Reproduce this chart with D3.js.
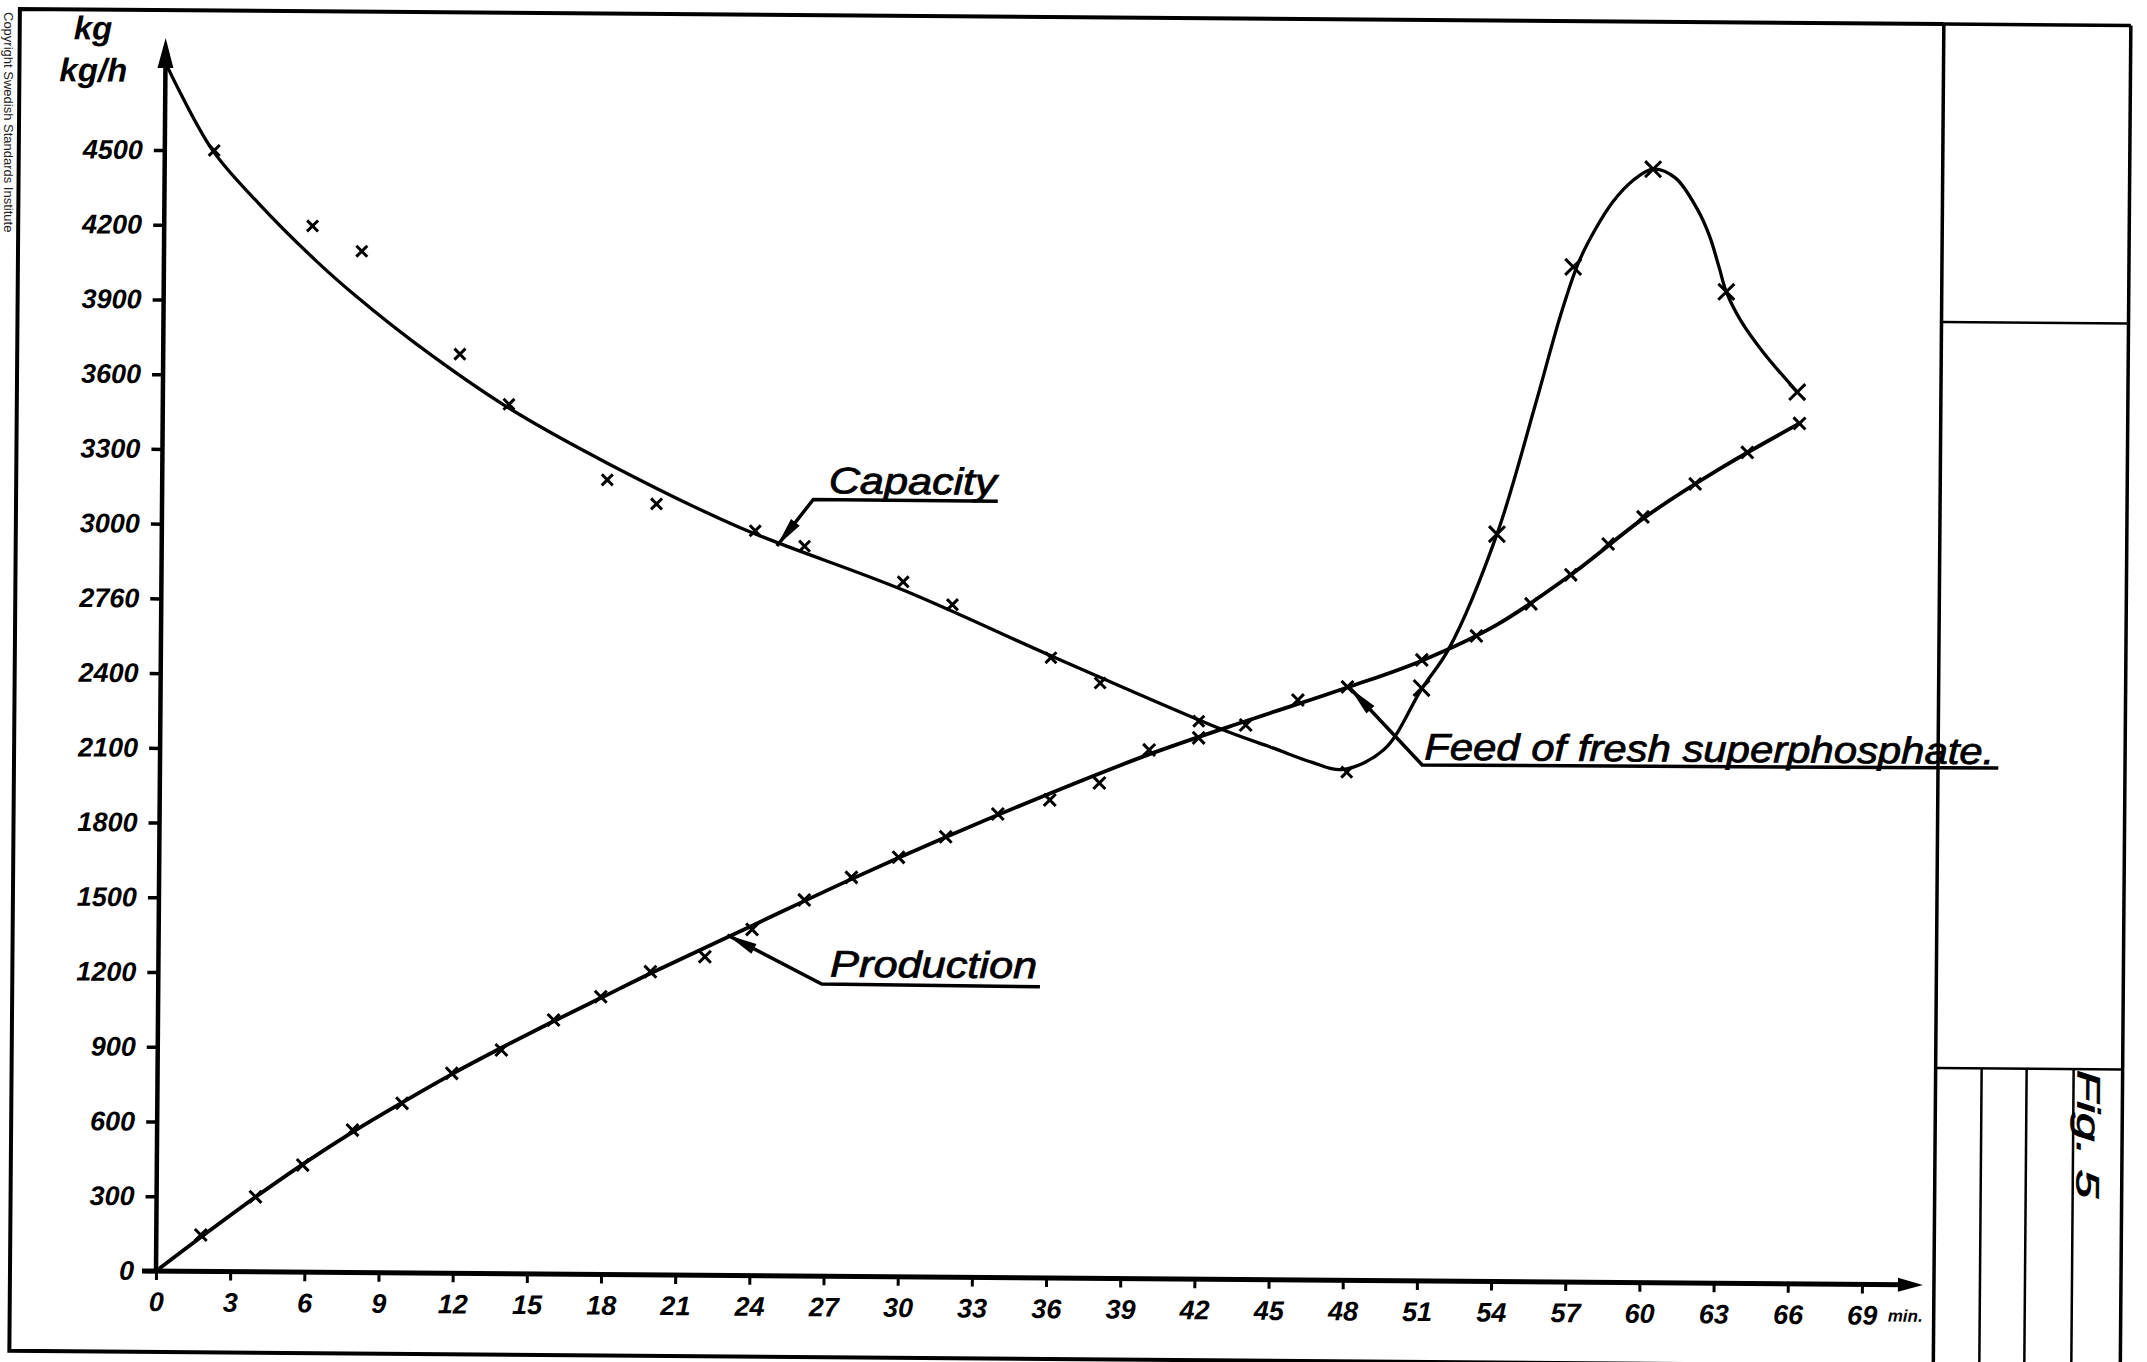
<!DOCTYPE html>
<html>
<head>
<meta charset="utf-8">
<script src="https://cdn.jsdelivr.net/npm/d3@7"></script>
<style>
  body { margin: 0; background: #fff; }
  svg { display: block; }
  .lbl { font-family: "Liberation Sans", Arial, sans-serif; font-style: italic; }
</style>
</head>
<body>
<div id="chart"></div>
<script>
// Fig. 5 - capacity (kg/h) and production (kg) against time (min)

var yTicks = [0, 300, 600, 900, 1200, 1500, 1800, 2100, 2400, 2700, 3000, 3300, 3600, 3900, 4200, 4500];
var yTickLabels = ["0", "300", "600", "900", "1200", "1500", "1800", "2100", "2400", "2760", "3000", "3300", "3600", "3900", "4200", "4500"];
var xTicks = [0, 3, 6, 9, 12, 15, 18, 21, 24, 27, 30, 33, 36, 39, 42, 45, 48, 51, 54, 57, 60, 63, 66, 69];

// capacity, the drawn curve
var capLineT = [0, 1.9, 3.8, 6.1, 7.8, 10.2, 13.9, 18, 23.3, 30, 36.2, 43, 45, 46.6, 47.8, 49.5, 51, 52.1, 54, 55.5, 56.5, 57.2, 57.9, 58.6, 59.4, 60.2, 61.1, 62, 62.5, 62.9, 63.2, 63.8, 64.7, 66.1];
var capLineV = [4850, 4505, 4290, 4065, 3918, 3732, 3481, 3257, 3006, 2757, 2489, 2205, 2135, 2078, 2050, 2132, 2376, 2540, 3000, 3517, 3880, 4090, 4230, 4340, 4425, 4470, 4436, 4311, 4204, 4078, 3980, 3864, 3740, 3580];
// capacity, measured points
var capPointT = [2, 6, 8, 12, 14, 18, 20, 24, 26, 30, 32, 36, 38, 42, 48, 51, 54, 57, 60.2, 63.2, 66.1];
var capPointV = [4500, 4200, 4100, 3690, 3490, 3190, 3095, 2990, 2930, 2790, 2700, 2490, 2390, 2240, 2040, 2380, 3000, 4075, 4470, 3980, 3580];

// production, the drawn curve
var prodLineT = [0, 2, 4, 6, 8, 10, 12, 14, 16, 18, 20, 24, 28, 32, 36, 40, 44, 48, 51, 54, 57, 60, 63, 66.2];
var prodLineV = [0, 152, 300, 440, 570, 690, 805, 912, 1015, 1115, 1215, 1405, 1595, 1775, 1945, 2105, 2245, 2380, 2490, 2635, 2839, 3074, 3270, 3454];
// production, measured points
var prodPointT = [1.8, 4, 5.9, 7.9, 9.9, 11.9, 13.9, 16, 17.9, 19.9, 22.1, 24, 26.1, 28, 29.9, 31.8, 33.9, 36, 38, 40, 42, 43.9, 46, 48, 51, 53.2, 55.4, 57, 58.5, 59.9, 62, 64.1, 66.2];
var prodPointV = [146, 301, 430, 572, 681, 803, 898, 1020, 1115, 1217, 1279, 1390, 1510, 1602, 1684, 1768, 1861, 1919, 1989, 2123, 2173, 2226, 2328, 2382, 2493, 2591, 2721, 2839, 2964, 3074, 3208, 3336, 3454];

var W = 2147, H = 1362;

var x = d3.scaleLinear().domain([0, 69]).range([156, 1862]);
var y = d3.scaleLinear().domain([0, 4500]).range([1271, 150]);

var svg = d3.select("#chart").append("svg")
  .attr("width", W)
  .attr("height", H);
svg.append("rect").attr("width", W).attr("height", H).attr("fill", "#fff");

// the scanned sheet sits slightly turned
var g = svg.append("g")
  .attr("transform", "rotate(0.45," + x(0) + "," + y(0) + ")");

// sheet border + title block
var frame = g.append("g").attr("fill", "none").attr("stroke", "#000");
frame.append("path").attr("d", "M1934,10 H10 V1352 H1934").attr("stroke-width", 4);
frame.append("path").attr("d", "M1934,10 H2121").attr("stroke-width", 3.5);
frame.append("path").attr("d", "M1934,10 V1420").attr("stroke-width", 3.5);
frame.append("path").attr("d", "M2121,10 V1420").attr("stroke-width", 3.5);
frame.append("path").attr("d", "M1934,308 H2121").attr("stroke-width", 2.5);
frame.append("path").attr("d", "M1934,1054 H2121").attr("stroke-width", 2.5);
[1980, 2025, 2072].forEach(function (xx) {
  frame.append("path").attr("d", "M" + xx + ",1054 V1420").attr("stroke-width", 2.5);
});

g.append("text")
  .attr("class", "lbl")
  .attr("transform", "translate(2076,1055) rotate(90)")
  .attr("font-size", 32)
  .attr("textLength", 128)
  .attr("lengthAdjust", "spacingAndGlyphs")
  .attr("stroke", "#000").attr("stroke-width", 0.8)
  .text("Fig. 5");

svg.append("text")
  .attr("transform", "translate(4,12) rotate(90)")
  .attr("font-family", "Liberation Sans, Arial, sans-serif")
  .attr("font-size", 13)
  .attr("fill", "#222")
  .text("Copyright Swedish Standards Institute");

// Y axis
var yAxis = g.append("g")
  .attr("transform", "translate(" + x(0) + ",0)")
  .call(d3.axisLeft(y).tickValues(yTicks)
    .tickFormat(function (d, i) { return yTickLabels[i]; })
    .tickSize(11).tickPadding(11).tickSizeOuter(0));
yAxis.select(".domain").remove();
yAxis.selectAll(".tick line").attr("stroke", "#000").attr("stroke-width", 3.5);
yAxis.selectAll(".tick text")
  .attr("class", "lbl")
  .attr("font-size", 27)
  .attr("font-weight", "bold")
  .attr("fill", "#000");

// X axis
var xAxis = g.append("g")
  .attr("transform", "translate(0," + y(0) + ")")
  .call(d3.axisBottom(x).tickValues(xTicks).tickFormat(d3.format("d"))
    .tickSize(9).tickPadding(12).tickSizeOuter(0));
xAxis.select(".domain").remove();
xAxis.selectAll(".tick line").attr("stroke", "#000").attr("stroke-width", 3);
xAxis.selectAll(".tick text")
  .attr("class", "lbl")
  .attr("font-size", 27)
  .attr("font-weight", "bold")
  .attr("fill", "#000");

g.append("text")
  .attr("class", "lbl")
  .attr("x", x(69) + 26)
  .attr("y", y(0) + 37)
  .attr("font-size", 17)
  .attr("font-weight", "bold")
  .text("min.");

// axis lines with arrows
g.append("line")
  .attr("x1", x(0)).attr("y1", y(0) + 2)
  .attr("x2", x(0)).attr("y2", 62)
  .attr("stroke", "#000").attr("stroke-width", 4.5);
g.append("path")
  .attr("d", "M" + x(0) + ",38 L" + (x(0) - 8) + ",68 L" + (x(0) + 8) + ",68 Z")
  .attr("fill", "#000");
g.append("line")
  .attr("x1", x(0) - 14).attr("y1", y(0))
  .attr("x2", 1905).attr("y2", y(0))
  .attr("stroke", "#000").attr("stroke-width", 5);
g.append("path")
  .attr("d", "M1923," + y(0) + " L1898," + (y(0) - 7) + " L1898," + (y(0) + 7) + " Z")
  .attr("fill", "#000");

// axis unit
g.append("text").attr("class", "lbl")
  .attr("x", 64).attr("y", 40)
  .attr("font-size", 33).attr("font-weight", "bold")
  .text("kg");
g.append("text").attr("class", "lbl")
  .attr("x", 50).attr("y", 82)
  .attr("font-size", 33).attr("font-weight", "bold")
  .text("kg/h");

// curves
var line = d3.line()
  .x(function (d) { return x(d[0]); })
  .y(function (d) { return y(d[1]); })
  .curve(d3.curveCatmullRom.alpha(0.5));

g.append("path")
  .datum(d3.zip(capLineT, capLineV))
  .attr("d", line)
  .attr("fill", "none")
  .attr("stroke", "#000")
  .attr("stroke-width", 3.3);

g.append("path")
  .datum(d3.zip(prodLineT, prodLineV))
  .attr("d", line)
  .attr("fill", "none")
  .attr("stroke", "#000")
  .attr("stroke-width", 3.8);

function cross(d, r) {
  var cx = x(d[0]), cy = y(d[1]);
  return "M" + (cx - r) + "," + (cy - r) + "L" + (cx + r) + "," + (cy + r) +
         "M" + (cx - r) + "," + (cy + r) + "L" + (cx + r) + "," + (cy - r);
}

g.selectAll("path.cap-pt")
  .data(d3.zip(capPointT, capPointV))
  .enter().append("path")
  .attr("class", "cap-pt")
  .attr("d", function (d) { return cross(d, d[0] > 50 ? 8 : 5.5); })
  .attr("stroke", "#000")
  .attr("stroke-width", 3);

g.selectAll("path.prod-pt")
  .data(d3.zip(prodPointT, prodPointV))
  .enter().append("path")
  .attr("class", "prod-pt")
  .attr("d", function (d) { return cross(d, 6); })
  .attr("stroke", "#000")
  .attr("stroke-width", 3);

// labels with leaders
var notes = [
  { text: "Capacity", tip: [24.88, 2930], elbow: [26.34, 3118], end: [33.8, 3116], at: [26.96, 3143], len: 168 },
  { text: "Production", tip: [23.0, 1367], elbow: [26.83, 1173], end: [35.66, 1169], at: [27.17, 1203], len: 207 },
  { text: "Feed of fresh superphosphate.", tip: [48.1, 2378], elbow: [51.05, 2071], end: [74.35, 2077], at: [51.13, 2093], len: 570 }
];

notes.forEach(function (n) {
  var tip = [x(n.tip[0]), y(n.tip[1])];
  var elb = [x(n.elbow[0]), y(n.elbow[1])];
  var end = [x(n.end[0]), y(n.end[1])];
  g.append("path")
    .attr("d", d3.line()([tip, elb, end]))
    .attr("fill", "none")
    .attr("stroke", "#000")
    .attr("stroke-width", 3.5);
  var dx = elb[0] - tip[0], dy = elb[1] - tip[1];
  var L = Math.sqrt(dx * dx + dy * dy), ux = dx / L, uy = dy / L;
  var head = 30, hw = 5.5;
  var bx = tip[0] + ux * head, by = tip[1] + uy * head;
  g.append("path")
    .attr("d", "M" + tip[0] + "," + tip[1] +
      "L" + (bx - uy * hw) + "," + (by + ux * hw) +
      "L" + (bx + uy * hw) + "," + (by - ux * hw) + "Z")
    .attr("fill", "#000");
  g.append("text")
    .attr("class", "lbl")
    .attr("x", x(n.at[0]))
    .attr("y", y(n.at[1]))
    .attr("font-size", 37)
    .attr("stroke", "#000")
    .attr("stroke-width", 0.8)
    .attr("textLength", n.len)
    .attr("lengthAdjust", "spacingAndGlyphs")
    .text(n.text);
});
</script>
</body>
</html>
